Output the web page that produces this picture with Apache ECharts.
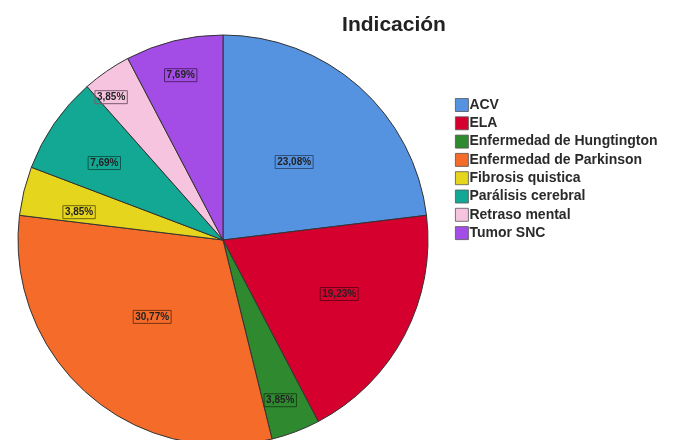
<!DOCTYPE html>
<html><head><meta charset="utf-8">
<script src="https://cdn.jsdelivr.net/npm/echarts@6/dist/echarts.min.js"></script>
<style>html,body{margin:0;padding:0;background:#fff}#c{width:674px;height:440px}</style>
</head><body><div id="c"></div>
<script>
const categories = ['ACV','ELA','Enfermedad de Hungtington','Enfermedad de Parkinson','Fibrosis quistica','Parálisis cerebral','Retraso mental','Tumor SNC'];
const percents = [23.08, 19.23, 3.85, 30.77, 3.85, 7.69, 3.85, 7.69];
const colors = ['#5592e0','#d6002e','#2f8a2f','#f56b2a','#e5d51c','#13a893','#f6c4df','#a44de6'];
const borders = ['#2a4f80','#6e0018','#164716','#7a3311','#6f6610','#0b5a4f','#7a5a6c','#52206f'];
// label placement styling: fraction of radius, fraction across slice angle
const labelRadial = [0.515, 0.625, 0.83, 0.51, 0.715, 0.69, 0.885, 0.83];
const labelAngular = [0.51, 0.46, 0.58, 0.51, 0.29, 0.44, 0.25, 0.48];

const chart = echarts.init(document.getElementById('c'));
chart.setOption({
  animation:false,
  title:{text:'Indicación',left:394,top:15,padding:0,textAlign:'center',textStyle:{fontFamily:'Liberation Sans',fontSize:21,fontWeight:'bold',color:'#222'}},
  legend:{orient:'vertical',left:455,top:98,padding:0,itemWidth:13,itemHeight:13,itemGap:4.3,icon:'rect',
    textStyle:{fontFamily:'Liberation Sans',fontSize:14,lineHeight:14,fontWeight:'bold',color:'#2a2a2a',padding:[0,0,0,-4]},
    itemStyle:{borderColor:'#555',borderWidth:0.8}},
  series:[{type:'pie',center:[223,240],radius:[0,205],startAngle:90,clockwise:true,
    silent:true,
    itemStyle:{borderColor:'#333',borderWidth:1},
    label:{position:'inside',fontFamily:'Liberation Sans',fontSize:10,fontWeight:'bold',color:'#222',
      borderWidth:1,padding:[2,2,1,2],formatter:p=>p.value.toFixed(2).replace('.',',')+'%'},
    labelLine:{show:false},
    labelLayout:function(params){
      const i = params.dataIndex;
      const lay = chart.getModel().getSeriesByIndex(0).getData().getItemLayout(i);
      const a = lay.startAngle + labelAngular[i]*(lay.endAngle - lay.startAngle);
      const d = lay.r * labelRadial[i];
      return {x: lay.cx + d*Math.cos(a), y: lay.cy + d*Math.sin(a), align:'center', verticalAlign:'middle'};
    },
    data:categories.map((n,i)=>({name:n,value:percents[i],itemStyle:{color:colors[i]},label:{borderColor:borders[i]}}))
  }]
});
</script></body></html>
